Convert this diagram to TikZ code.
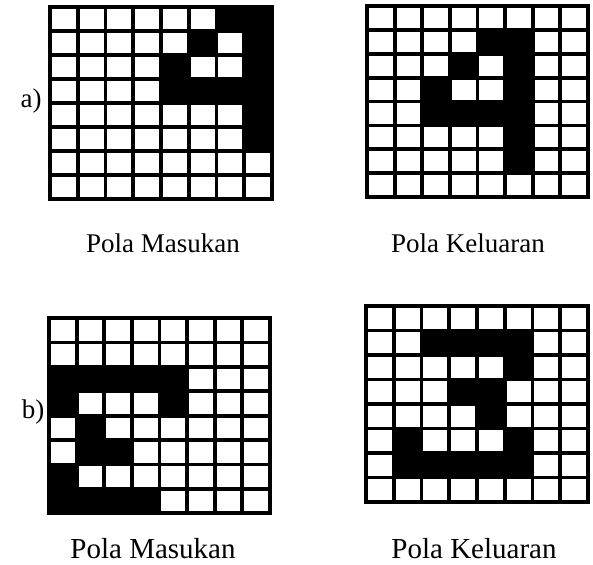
\documentclass[tikz,border=0pt]{standalone}
\usepackage{fontspec}
\setmainfont{Liberation Serif}
\tikzset{
  gridline/.style={line width=3.8pt,black},
  lab/.style={font=\fontsize{27}{30}\selectfont, inner sep=0pt, anchor=base},
  labbig/.style={font=\fontsize{29}{32}\selectfont, inner sep=0pt, anchor=base}
}
\newcommand\pgrid[5]{%
  \begin{scope}[shift={(#1,#2)},x=#3pt,y=-#4pt]
    \foreach \c/\r in {#5} \fill[black] (\c-1,\r-1) rectangle (\c,\r);
    \foreach \i in {1,...,7} {\draw[gridline] (\i,0) -- (\i,8); \draw[gridline] (0,\i) -- (8,\i);}
    \draw[gridline,line width=4.2pt] (0,0) rectangle (8,8);
  \end{scope}}
\begin{document}
\begin{tikzpicture}[x=1pt,y=-1pt]
\useasboundingbox (0,0) rectangle (593,564);
\fill[white] (0,0) rectangle (593,564);
% a) input
\pgrid{50}{7}{27.75}{24}{7/1,8/1,6/2,8/2,5/3,8/3,5/4,6/4,7/4,8/4,8/5,8/6}
% a) output
\pgrid{367}{6}{27.6}{23.9}{5/2,6/2,4/3,6/3,3/4,6/4,3/5,4/5,5/5,6/5,6/6,6/7}
% b) input
\pgrid{49}{318}{27.6}{24.4}{1/3,2/3,3/3,4/3,5/3,1/4,5/4,2/5,2/6,3/6,1/7,1/8,2/8,3/8,4/8}
% b) output
\pgrid{366}{306}{27.75}{24.5}{3/2,4/2,5/2,6/2,6/3,4/4,5/4,5/5,2/6,6/6,2/7,3/7,4/7,5/7,6/7}
\node[lab] (la) at (31,108) {a)};
\node[lab] (lb) at (33,418) {b)};
\node[lab] (t1) at (163,252) {Pola Masukan};
\node[lab] (t2) at (468,252) {Pola Keluaran};
\node[labbig] (t3) at (153,558) {Pola Masukan};
\node[labbig] (t4) at (474,558) {Pola Keluaran};
\end{tikzpicture}
\end{document}
